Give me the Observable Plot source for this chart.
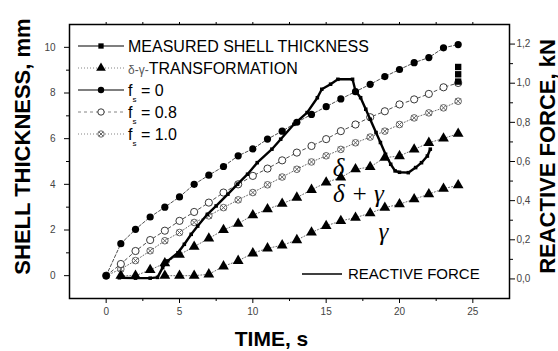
<!DOCTYPE html>
<html><head><meta charset="utf-8">
<script src="https://cdn.jsdelivr.net/npm/d3@7"></script>
<script src="https://cdn.jsdelivr.net/npm/@observablehq/plot@0.6"></script>
<style>
body{margin:0;background:#fff;}
#chart [aria-label$="tick label"] text, #chart [aria-label$="tick label"] {fill:#444;}
</style>
</head><body><div id="chart"></div>
<script>
// ---- data ----
const timeS = [0,1,2,3,4,5,6,7,8,9,10,11,12,13,14,15,16,17,18,19,20,21,22,23,24];
const fs0 = [0,1.4,2.03,2.57,3.0,3.45,4.0,4.4,4.78,5.25,5.55,5.98,6.33,6.72,7.06,7.4,7.74,8.06,8.38,8.72,9.03,9.33,9.55,9.98,10.12];
const fs08 = [0,0.51,1.08,1.56,1.97,2.4,2.79,3.2,3.64,4.0,4.37,4.69,5.05,5.39,5.68,5.98,6.33,6.62,6.94,7.2,7.5,7.72,7.96,8.25,8.44];
const fs10 = [0,0.29,0.66,1.09,1.53,1.89,2.33,2.62,2.98,3.32,3.64,3.98,4.32,4.66,4.98,5.25,5.53,5.82,6.07,6.33,6.62,6.91,7.13,7.35,7.64];
const timeDeltaGamma = [1,2,3,4,5,6,7,8,9,10,11,12,13,14,15,16,17,18,19,20,21,22,23,24];
const deltaGamma = [0,0,0.25,0.55,0.92,1.27,1.63,2.0,2.28,2.65,2.91,3.15,3.42,3.76,4.08,4.3,4.66,4.76,5.17,5.24,5.53,5.82,6.01,6.22];
const timeGamma = [4,5,6,7,8,9,10,11,12,13,14,15,16,17,18,19,20,21,22,23,24];
const gamma = [0,0,0,0.06,0.41,0.65,0.98,1.2,1.33,1.56,1.89,2.18,2.4,2.54,2.74,2.98,3.13,3.35,3.57,3.81,3.96];
const measuredTime = [24,24,24];
const measuredThickness = [8.5,8.82,9.14];
const forceTime = [0.9,2,3,3.5,3.85,4.2,4.9,5.33,5.8,6.24,6.9,7.5,8.3,8.96,9.64,10.3,11.3,11.9,12.8,13.7,14.4,14.7,15.3,15.8,16.8,17.0,17.35,17.7,18.0,18.4,18.7,19.05,19.4,19.7,20.0,20.6,21.1,21.5,21.9,22.1];
const forceKN = [0.006,0.004,0.004,0.008,0.058,0.092,0.134,0.177,0.228,0.27,0.33,0.373,0.433,0.484,0.535,0.594,0.663,0.714,0.79,0.85,0.926,0.969,0.995,1.02,1.02,0.96,0.926,0.867,0.816,0.748,0.697,0.637,0.586,0.552,0.545,0.543,0.569,0.594,0.628,0.663];
const xMajorTicks = [0,5,10,15,20,25];
const xMinorTicks = [2.5,7.5,12.5,17.5,22.5];
const yMajorTicks = [0,2,4,6,8,10];
const yMinorTicks = [1,3,5,7,9];
const forceMajorTicks = [0,0.2,0.4,0.6,0.8,1.0,1.2];
const forceMinorTicks = [0.1,0.3,0.5,0.7,0.9,1.1];
const legendLabels = ["MEASURED SHELL THICKNESS","δ-γ-TRANSFORMATION","f|s| = 0","f|s| = 0.8","f|s| = 1.0"];
const forceLegendLabel = "REACTIVE FORCE";
const phaseLabels = ["δ","δ + γ","γ"];
const phaseLabelTime = [15.85,17.2,18.9];
const phaseLabelThickness = [4.72,3.58,1.9];
const xTitle = "TIME, s", yTitle = "SHELL THICKNESS, mm", y2Title = "REACTIVE FORCE, kN";

// right axis (kN) mapped onto left (mm) scale: left [-1,11] <-> right [-0.1,1.3]
const toLeft = F => -1 + (F + 0.1) / 1.4 * 12;
const fromLeft = v => (v + 1) / 12 * 1.4 - 0.1;

const rows = (xs, ys) => xs.map((x, i) => ({x, y: ys[i]}));
const dFs0 = rows(timeS, fs0), dFs08 = rows(timeS, fs08), dFs10 = rows(timeS, fs10);
const dDG = rows(timeDeltaGamma, deltaGamma), dG = rows(timeGamma, gamma);
const dMeas = rows(measuredTime, measuredThickness);
const dForce = forceTime.map((x, i) => ({x, y: toLeft(forceKN[i])}));
const dPhase = phaseLabels.map((t, i) => ({text: t, x: phaseLabelTime[i], y: phaseLabelThickness[i]}));

const blank = () => "";
const plot = Plot.plot({
  width: 558, height: 351,
  marginLeft: 69, marginRight: 49, marginTop: 24, marginBottom: 53,
  x: {domain: [-2.5, 27.5]},
  y: {domain: [-1, 11]},
  style: {fontFamily: "'Liberation Sans', Arial, sans-serif", fontSize: "10px", color: "black", background: "white", overflow: "visible"},
  marks: [
    Plot.line(dFs0, {x: "x", y: "y", stroke: "#222", strokeWidth: 0.8, strokeDasharray: "3,2"}),
    Plot.line(dFs08, {x: "x", y: "y", stroke: "#222", strokeWidth: 0.8, strokeDasharray: "3,3"}),
    Plot.line(dFs10, {x: "x", y: "y", stroke: "#444", strokeWidth: 0.8, strokeDasharray: "1,2"}),
    Plot.line(dDG, {x: "x", y: "y", stroke: "#444", strokeWidth: 0.8, strokeDasharray: "1,2"}),
    Plot.line(dG, {x: "x", y: "y", stroke: "#444", strokeWidth: 0.8, strokeDasharray: "1,2"}),
    Plot.dot(dFs10, {x: "x", y: "y", r: 3.3, fill: "white", stroke: "#555", strokeWidth: 0.9}),
    Plot.dot(dFs10, {x: "x", y: "y", symbol: "times", r: 2.6, stroke: "#555", strokeWidth: 0.9}),
    Plot.dot(dFs08, {x: "x", y: "y", r: 3.6, fill: "white", stroke: "#222", strokeWidth: 0.9}),
    Plot.dot(dFs0, {x: "x", y: "y", r: 3.6, fill: "black", stroke: "none"}),
    Plot.dot(dDG, {x: "x", y: "y", symbol: "triangle", r: 4, fill: "black", stroke: "none"}),
    Plot.dot(dG, {x: "x", y: "y", symbol: "triangle", r: 4, fill: "black", stroke: "none"}),
    Plot.line(dForce, {x: "x", y: "y", stroke: "black", strokeWidth: 2.4}),
    Plot.dot(dForce, {x: "x", y: "y", symbol: "square", r: 2, fill: "black", stroke: "none"}),
    Plot.dot(dMeas, {x: "x", y: "y", symbol: "square", r: 3.6, fill: "black", stroke: "none"}),
    Plot.text(dPhase, {x: "x", y: "y", text: "text", fontFamily: "'Liberation Serif', 'Times New Roman', serif", fontStyle: "italic", fontSize: 25, fill: "black"}),
    Plot.frame({stroke: "black", strokeWidth: 1.5}),
    Plot.axisX({ticks: xMajorTicks, tickSize: 5, tickPadding: 4, label: null, fontSize: 10}),
    Plot.axisX({ticks: xMinorTicks, tickSize: 3, tickFormat: blank, label: null}),
    Plot.axisX({anchor: "top", ticks: xMajorTicks.concat(xMinorTicks), tickSize: 3, tickFormat: blank, label: null}),
    Plot.axisY({ticks: yMajorTicks, tickSize: 5, tickPadding: 9, label: null, fontSize: 10}),
    Plot.axisY({ticks: yMinorTicks, tickSize: 3, tickFormat: blank, label: null}),
    Plot.axisY({anchor: "right", ticks: forceMajorTicks.map(toLeft), tickSize: 5, tickPadding: 2, label: null, fontSize: 10,
      tickFormat: v => fromLeft(v).toFixed(1).replace(".", ",")}),
    Plot.axisY({anchor: "right", ticks: forceMinorTicks.map(toLeft), tickSize: 3, tickFormat: blank, label: null}),
    Plot.text([yTitle], {frameAnchor: "left", rotate: -90, dx: -47, dy: -15, textAnchor: "middle", lineAnchor: "middle", fontSize: 22, fontWeight: "bold", fill: "black"}),
    Plot.text([y2Title], {frameAnchor: "right", rotate: -90, dx: 38, dy: -5, textAnchor: "middle", lineAnchor: "middle", fontSize: 22, fontWeight: "bold", fill: "black"}),
    Plot.text([xTitle], {frameAnchor: "bottom", dx: -18, dy: 41, textAnchor: "middle", lineAnchor: "middle", fontSize: 21, fontWeight: "bold", fill: "black"})
  ]
});
document.getElementById("chart").append(plot);

// ---- legend (drawn on the same svg) ----
const svg = d3.select(plot);
const lg = svg.append("g").attr("font-family", "'Liberation Sans', Arial, sans-serif").attr("text-anchor", "start");
const legendStyle = [
  {dash: null, sym: "square"},
  {dash: "1,2", sym: "triangle"},
  {dash: null, sym: "dot"},
  {dash: "3,3", sym: "open"},
  {dash: "1,2", sym: "crossed"}
];
const sym = (type, r) => d3.symbol(type, Math.PI * r * r)();
legendLabels.forEach((label, i) => {
  const y = 46 + i * 22, xm = 101;
  const st = legendStyle[i];
  lg.append("line").attr("x1", 78).attr("x2", 124).attr("y1", y).attr("y2", y)
    .attr("stroke", st.dash ? "#666" : "black").attr("stroke-width", st.dash ? 0.8 : 1.1)
    .attr("stroke-dasharray", st.dash);
  const g = lg.append("g").attr("transform", `translate(${xm},${y})`);
  if (st.sym === "square") g.append("path").attr("d", sym(d3.symbolSquare, 3)).attr("fill", "black");
  if (st.sym === "triangle") g.append("path").attr("d", sym(d3.symbolTriangle, 3.6)).attr("fill", "black");
  if (st.sym === "dot") g.append("circle").attr("r", 3.2).attr("fill", "black");
  if (st.sym === "open") g.append("circle").attr("r", 3.2).attr("fill", "white").attr("stroke", "#222").attr("stroke-width", 0.9);
  if (st.sym === "crossed") {
    g.append("circle").attr("r", 3.2).attr("fill", "white").attr("stroke", "#555").attr("stroke-width", 0.9);
    g.append("path").attr("d", "M-2,-2L2,2M-2,2L2,-2").attr("stroke", "#555").attr("stroke-width", 0.9);
  }
  const t = lg.append("text").attr("x", 128).attr("y", y).attr("dy", "0.36em").attr("font-size", 16).attr("fill", "black").attr("text-anchor", "start");
  const parts = label.split("|");
  if (parts.length === 3) {
    t.append("tspan").text(parts[0]);
    t.append("tspan").attr("font-size", 8).attr("dy", 6).text(parts[1]);
    t.append("tspan").attr("dy", -6).text(parts[2]);
  } else if (label.startsWith("δ")) {
    t.append("tspan").attr("font-size", 12).attr("fill", "#555").text(label.slice(0, 4));
    t.append("tspan").text(label.slice(4));
  } else {
    t.text(label);
  }
});
lg.append("line").attr("x1", 302).attr("x2", 342).attr("y1", 274).attr("y2", 274).attr("stroke", "black").attr("stroke-width", 1.4);
lg.append("text").attr("x", 348).attr("y", 274).attr("dy", "0.36em").attr("font-size", 15).attr("fill", "black").attr("text-anchor", "start").text(forceLegendLabel);
</script>
</body></html>
